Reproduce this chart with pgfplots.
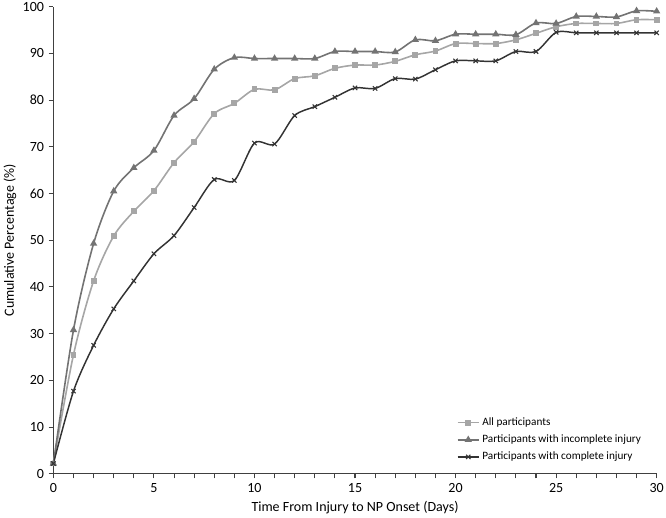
\documentclass[border=0pt]{standalone}
\usepackage{fontspec}
\setmainfont{Carlito}
\usepackage{pgfplots}
\pgfplotsset{compat=1.18}
\definecolor{allc}{HTML}{A6A6A6}
\definecolor{incc}{HTML}{737373}
\definecolor{comc}{HTML}{333333}
\definecolor{axc}{HTML}{404040}
\begin{document}
\begin{tikzpicture}
\begin{axis}[
  scale only axis,
  width=452pt, height=350pt,
  xmin=0, xmax=30, ymin=0, ymax=100,
  axis lines*=left,
  axis line style={axc, line width=1pt},
  every tick/.style={axc, line width=0.8pt},
  tick align=outside,
  major tick length=3.5pt,
  minor tick length=3.5pt,
  xtick={0,5,...,30}, minor x tick num=4,
  ytick={0,10,...,100},
  font=\fontsize{10.5}{12}\selectfont,
  /pgf/number format/assume math mode=true,
  xlabel={Time From Injury to NP Onset (Days)},
  ylabel={Cumulative Percentage (\%)},
  xlabel style={yshift=0pt},
  ylabel style={yshift=-2pt},
  legend cell align=left,
  legend style={draw=none, fill=none, at={(axis cs:19.85,13.2)}, anchor=north west,
    font=\fontsize{8.4}{10}\selectfont, row sep=1.5pt},
  legend image code/.code={%
    \draw[mark repeat=2,mark phase=2,#1] plot coordinates {(0cm,0cm) (0.28cm,0cm) (0.56cm,0cm)};},
]
\addplot[allc, line width=1.2pt, smooth, mark=square*, mark size=1.6pt, mark options={solid, fill=allc}]
coordinates {
(0,2.2) (1,25.5) (2,41.3) (3,50.9) (4,56.2) (5,60.6) (6,66.6) (7,71.1) (8,77.1) (9,79.3) (10,82.3)
(11,82.2) (12,84.6) (13,85.2) (14,86.8) (15,87.5) (16,87.5) (17,88.3) (18,89.7) (19,90.5) (20,92.1)
(21,92.1) (22,92.1) (23,92.9) (24,94.3) (25,95.7) (26,96.4) (27,96.4) (28,96.4) (29,97.2) (30,97.2)
};
\addlegendentry{All participants}
\addplot[incc, line width=1.2pt, smooth, mark=triangle*, mark size=2pt, mark options={solid, fill=incc}]
coordinates {
(0,2.2) (1,30.8) (2,49.3) (3,60.5) (4,65.5) (5,69.2) (6,76.7) (7,80.3) (8,86.6) (9,89.1) (10,88.9)
(11,88.9) (12,88.9) (13,88.9) (14,90.4) (15,90.4) (16,90.4) (17,90.3) (18,92.9) (19,92.7) (20,94.1)
(21,94.1) (22,94.1) (23,94.0) (24,96.5) (25,96.4) (26,97.9) (27,97.9) (28,97.8) (29,99.1) (30,99.0)
};
\addlegendentry{Participants with incomplete injury}
\addplot[comc, line width=1.1pt, smooth, mark=x, mark size=2.3pt, mark options={solid, line width=0.8pt}]
coordinates {
(0,2.2) (1,17.7) (2,27.5) (3,35.3) (4,41.3) (5,47.1) (6,51.0) (7,57.0) (8,63.0) (9,62.8) (10,70.8)
(11,70.6) (12,76.7) (13,78.6) (14,80.6) (15,82.6) (16,82.5) (17,84.6) (18,84.5) (19,86.5) (20,88.4)
(21,88.4) (22,88.4) (23,90.4) (24,90.4) (25,94.5) (26,94.4) (27,94.4) (28,94.4) (29,94.4) (30,94.4)
};
\addlegendentry{Participants with complete injury}
\end{axis}
\pgfresetboundingbox
\path ([shift={(-40pt,-32.5pt)}]current axis.south west) rectangle ([shift={(7pt,5pt)}]current axis.north east);
\end{tikzpicture}
\end{document}
